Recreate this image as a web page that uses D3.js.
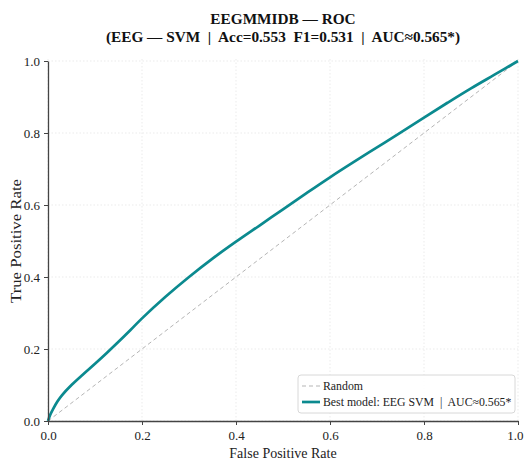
<!DOCTYPE html>
<html>
<head>
<meta charset="utf-8">
<script src="https://cdn.jsdelivr.net/npm/d3@7/dist/d3.min.js"></script>
<style>
  html, body { margin: 0; padding: 0; background: #fff; }
  svg { display: block; }
  text { font-family: "Liberation Serif", "Times New Roman", serif; }
</style>
</head>
<body>
<svg id="chart" width="524" height="461"></svg>
<script>
// ---- data ----
const titleLines = ["EEGMMIDB — ROC", "(EEG — SVM  |  Acc=0.553  F1=0.531  |  AUC≈0.565*)"];
const xTicks = [0.0, 0.2, 0.4, 0.6, 0.8, 1.0];
const yTicks = [0.0, 0.2, 0.4, 0.6, 0.8, 1.0];
const randomFpr = [0, 1];
const randomTpr = [0, 1];
const modelFpr = [0, 0.005, 0.01, 0.02, 0.03, 0.05, 0.075, 0.1, 0.125, 0.15, 0.175, 0.2, 0.25, 0.3, 0.35, 0.4, 0.45, 0.5, 0.55, 0.6, 0.65, 0.7, 0.75, 0.8, 0.85, 0.9, 0.95, 1.0];
const modelTpr = [0, 0.018, 0.031, 0.054, 0.072, 0.100, 0.130, 0.159, 0.189, 0.220, 0.252, 0.285, 0.345, 0.400, 0.451, 0.498, 0.543, 0.588, 0.633, 0.677, 0.719, 0.760, 0.801, 0.843, 0.884, 0.924, 0.962, 1.0];
const legendLabels = ["Random", "Best model: EEG SVM  |  AUC≈0.565*"];

// ---- layout ----
const svg = d3.select("#chart");
const margin = {left: 48, right: 6, top: 61, bottom: 40};
const W = 524, H = 461;
const x = d3.scaleLinear().domain([0, 1]).range([margin.left, W - margin.right]);
const y = d3.scaleLinear().domain([0, 1]).range([H - margin.bottom, margin.top]);

// grid
const grid = svg.append("g");
grid.selectAll("line.gx").data(xTicks).join("line")
  .attr("x1", d => x(d)).attr("x2", d => x(d))
  .attr("y1", y(0)).attr("y2", y(1) - 4)
  .attr("stroke", "#e6e6e6").attr("stroke-width", 0.8).attr("stroke-dasharray", "1.5,2");
grid.selectAll("line.gy").data(yTicks).join("line")
  .attr("y1", d => y(d)).attr("y2", d => y(d))
  .attr("x1", x(0)).attr("x2", x(1))
  .attr("stroke", "#e6e6e6").attr("stroke-width", 0.8).attr("stroke-dasharray", "1.5,2");

// random line
const line = d3.line().x(d => x(d[0])).y(d => y(d[1]));
svg.append("path")
  .datum(randomFpr.map((f, i) => [f, randomTpr[i]]))
  .attr("d", line).attr("fill", "none")
  .attr("stroke", "#b5b5b5").attr("stroke-width", 1).attr("stroke-dasharray", "4,3");

// model curve
svg.append("path")
  .datum(modelFpr.map((f, i) => [f, modelTpr[i]]))
  .attr("d", d3.line().curve(d3.curveCatmullRom).x(d => x(d[0])).y(d => y(d[1])))
  .attr("fill", "none")
  .attr("stroke", "#0b8a8f").attr("stroke-width", 2.7).attr("stroke-linejoin", "round");

// axes
const fmt = d3.format(".1f");
const xAxis = svg.append("g").attr("transform", `translate(0,${y(0)})`)
  .call(d3.axisBottom(x).tickValues(xTicks).tickFormat(fmt).tickSize(4).tickPadding(6).tickSizeOuter(0));
const yAxis = svg.append("g").attr("transform", `translate(${x(0)},0)`)
  .call(d3.axisLeft(y).tickValues(yTicks).tickFormat(fmt).tickSize(4).tickPadding(4).tickSizeOuter(0));
[xAxis, yAxis].forEach(a => {
  a.select(".domain").attr("stroke", "#444").attr("stroke-width", 1.3);
  a.selectAll(".tick line").attr("stroke", "#444").attr("stroke-width", 1);
  a.selectAll(".tick text").attr("fill", "#222").style("font-size", "13px")
    .style("font-family", '"Liberation Serif", serif');
});
// keep the last x tick label inside the picture
xAxis.selectAll(".tick text").filter(d => d === 1).attr("text-anchor", "end").attr("dx", "5");

// axis labels
svg.append("text").attr("x", (x(0) + x(1)) / 2).attr("y", 458)
  .attr("text-anchor", "middle").attr("fill", "#222").style("font-size", "14px")
  .text("False Positive Rate");
svg.append("text")
  .attr("transform", `translate(21,${(y(0) + y(1)) / 2}) rotate(-90)`)
  .attr("text-anchor", "middle").attr("fill", "#222").style("font-size", "14px")
  .attr("textLength", 124).attr("lengthAdjust", "spacingAndGlyphs")
  .text("True Positive Rate");

// title
svg.selectAll("text.title").data(titleLines).join("text")
  .attr("class", "title")
  .attr("x", (x(0) + x(1)) / 2).attr("y", (d, i) => 24 + i * 18)
  .attr("text-anchor", "middle").attr("fill", "#111")
  .style("font-size", "15.3px").style("font-weight", "bold")
  .style("white-space", "pre")
  .text(d => d);

// legend
const lg = svg.append("g");
lg.append("rect").attr("x", 298).attr("y", 375).attr("width", 217).attr("height", 38)
  .attr("rx", 3).attr("fill", "#fff").attr("fill-opacity", 0.9)
  .attr("stroke", "#d8d8d8").attr("stroke-width", 1);
const legendStyles = [
  {stroke: "#b5b5b5", width: 1, dash: "4,3"},
  {stroke: "#0b8a8f", width: 2.7, dash: null}
];
legendLabels.forEach((lab, i) => {
  const yy = 386 + i * 16;
  lg.append("line").attr("x1", 302).attr("x2", 320).attr("y1", yy).attr("y2", yy)
    .attr("stroke", legendStyles[i].stroke).attr("stroke-width", legendStyles[i].width)
    .attr("stroke-dasharray", legendStyles[i].dash);
  lg.append("text").attr("x", 323).attr("y", yy + 4).attr("fill", "#222")
    .style("font-size", "11.8px").style("white-space", "pre").text(lab);
});
</script>
</body>
</html>
